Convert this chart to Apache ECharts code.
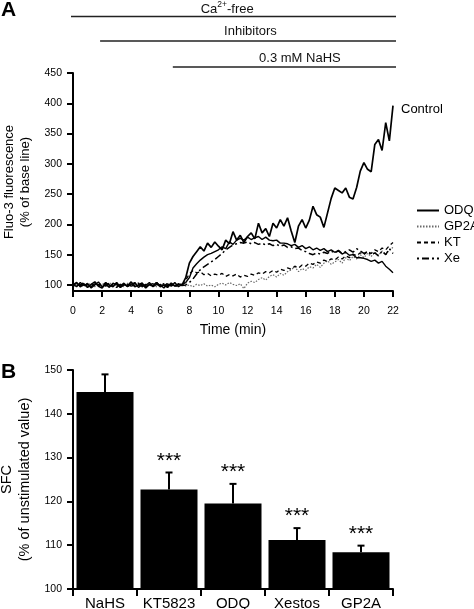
<!DOCTYPE html>
<html><head><meta charset="utf-8">
<script src="https://cdn.jsdelivr.net/npm/echarts@6/dist/echarts.min.js"></script>
<style>html,body{margin:0;padding:0;background:#fff}#c{width:474px;height:609px}</style>
</head><body><div id="c"></div><script>
// ---------- Panel A data ----------
const times = [0,0.25,0.5,0.75,1,1.25,1.5,1.75,2,2.25,2.5,2.75,3,3.25,3.5,3.75,4,4.25,4.5,4.75,5,5.25,5.5,5.75,6,6.25,6.5,6.75,7,7.25,7.5,
  7.75,8,8.25,8.5,8.75,9,9.25,9.5,9.75,10,10.25,10.5,10.75,11,11.25,11.5,11.75,12,12.25,12.5,12.75,13,13.25,13.5,13.75,14,14.25,14.5,14.75,15,
  15.25,15.5,15.75,16,16.25,16.5,16.75,17,17.25,17.5,17.75,18,18.25,18.5,18.75,19,19.25,19.5,19.75,20,20.25,20.5,20.75,21,21.25,21.5,21.75,22];

const control = [100,104,97,102,96,101,105,98,95,103,100,97,104,96,101,98,105,97,100,103,95,101,98,104,97,100,96,103,98,101,100,
  112,136,147,155,163,156,169,162,171,164,
  158,174,168,188,174,182,170,180,186,176,
  202,186,193,180,202,194,208,197,211,189,
  170,197,208,194,207,230,216,212,195,219,
  243,260,256,252,260,245,242,261,288,302,
  291,287,332,340,322,368,338,396];

const odq = [101,97,104,99,102,95,100,105,97,101,96,103,100,98,103,97,101,104,96,100,99,104,97,101,100,95,102,98,104,97,101,
  104,112,128,135,141,146,150,152,155,158,
  163,160,171,167,174,177,174,179,175,178,
  180,175,179,174,173,174,169,169,168,165,
  167,162,165,160,163,158,161,157,160,155,
  158,154,156,151,154,149,150,145,145,144,
  142,139,141,136,139,131,126,120];

const gp2a = [99,102,100,98,103,100,97,101,102,99,104,98,100,101,97,103,99,100,102,98,101,99,103,97,100,101,98,102,100,99,103,
  98,100,97,101,99,102,98,100,97,101,
  103,100,104,101,99,102,94,103,106,104,
  109,112,108,114,117,113,119,116,122,125,
  130,122,127,124,130,128,134,129,136,140,
  134,138,142,136,145,140,147,143,150,145,
  152,147,154,149,156,150,158,162];

const kt = [102,99,101,97,100,103,98,101,99,104,98,100,102,96,100,101,98,103,99,101,97,100,102,99,101,98,103,100,98,102,100,
  108,118,124,120,122,117,119,115,118,116,
  119,114,117,115,118,113,116,114,118,116,
  120,118,122,120,124,121,126,124,128,126,
  131,128,133,131,136,134,138,136,141,139,
  143,141,146,143,148,145,151,148,153,150,
  156,152,158,155,161,158,165,170];

const xe = [98,101,99,104,100,97,102,99,101,98,103,100,96,101,99,102,98,100,103,97,101,99,100,104,98,102,99,101,97,100,99,
  100,104,110,118,125,130,134,138,142,147,
  152,158,162,166,168,170,169,171,168,170,
  167,169,166,168,165,167,164,166,162,163,
  160,161,157,155,152,150,153,151,154,152,
  156,153,157,152,155,158,154,160,156,152,
  155,150,153,148,156,150,160,152];

const yTicksA = [100,150,200,250,300,350,400,450];
const bandLabels = ['Ca{s|2+}-free', 'Inhibitors', '0.3 mM NaHS'];
const bandStarts = [0, 2, 7];
const bandEnds = [22, 22, 22];
const bandLabelTimes = [10.6, 12.2, 15.6];

// ---------- Panel B data ----------
const categories = ['NaHS', 'KT5823', 'ODQ', 'Xestos', 'GP2A'];
const means = [145, 122.7, 119.5, 111.2, 108.4];
const sems = [4.0, 3.9, 4.5, 2.7, 1.5];
const significance = ['', '***', '***', '***', '***'];

const FONT = '"Liberation Sans", Arial, Helvetica, sans-serif';
const chart = echarts.init(document.getElementById('c'), null, {renderer: 'canvas'});

const axisLineS = {show: true, lineStyle: {color: '#000', width: 2}};
const axisTickS = {show: true, inside: false, length: 6, lineStyle: {color: '#000', width: 2}};

function pairs(vals) { return times.map((t, i) => [t, vals[i]]); }
function lineSeries(name, vals, style, extra) {
  return Object.assign({
    name, type: 'line', xAxisIndex: 0, yAxisIndex: 0, data: pairs(vals),
    symbol: 'none', showSymbol: false, animation: false, lineStyle: style, clip: true
  }, extra || {});
}

const option = {
  animation: false,
  textStyle: {fontFamily: FONT, color: '#000'},
  grid: [
    {left: 73, right: 81, top: 73, bottom: 318, containLabel: false, outerBoundsMode: 'none'},
    {left: 73, right: 81, top: 370, bottom: 20, containLabel: false, outerBoundsMode: 'none'}
  ],
  legend: {
    data: ['ODQ', 'GP2A', 'KT', 'Xe'], orient: 'vertical', left: 416, top: 204,
    itemWidth: 22, itemHeight: 12, itemGap: 3, padding: 0,
    itemStyle: {opacity: 0},
    textStyle: {fontSize: 13, color: '#000', fontFamily: FONT}
  },
  xAxis: [
    {type: 'value', gridIndex: 0, min: 0, max: 22, interval: 2,
     axisLine: axisLineS, axisTick: axisTickS, splitLine: {show: false},
     axisLabel: {fontSize: 10.5, color: '#000', margin: 15, fontFamily: FONT},
     name: 'Time (min)', nameLocation: 'middle', nameGap: 32,
     nameTextStyle: {fontSize: 14, color: '#000', fontFamily: FONT}},
    {type: 'category', gridIndex: 1, data: categories,
     axisLine: axisLineS, axisTick: Object.assign({}, axisTickS, {length: 7, alignWithLabel: false}),
     axisLabel: {fontSize: 15, color: '#000', margin: 7, fontFamily: FONT, interval: 0},
     splitLine: {show: false}}
  ],
  yAxis: [
    {type: 'value', gridIndex: 0, min: 90, max: 450,
     axisLine: axisLineS,
     axisTick: Object.assign({}, axisTickS, {customValues: yTicksA}),
     axisLabel: {fontSize: 10.5, color: '#000', margin: 11, fontFamily: FONT, customValues: yTicksA},
     splitLine: {show: false},
     name: 'Fluo-3 fluorescence\n(% of base line)', nameLocation: 'middle', nameRotate: 90, nameGap: 39,
     nameTextStyle: {fontSize: 13, lineHeight: 16, color: '#000', fontFamily: FONT, align: 'center'}},
    {type: 'value', gridIndex: 1, min: 100, max: 150, interval: 10,
     axisLine: axisLineS, axisTick: axisTickS,
     axisLabel: {fontSize: 10.5, color: '#000', margin: 11, fontFamily: FONT},
     splitLine: {show: false},
     name: 'SFC\n(% of unstimulated value)', nameLocation: 'middle', nameRotate: 90, nameGap: 37,
     nameTextStyle: {fontSize: 14.5, lineHeight: 18, color: '#000', fontFamily: FONT, align: 'center'}}
  ],
  series: [
    lineSeries('GP2A', gp2a, {color: '#6a6a6a', width: 1.2, type: [1.5, 1.5]}, {itemStyle: {color: '#6a6a6a'}}),
    lineSeries('KT', kt, {color: '#000', width: 1.3, type: [4, 3]}, {itemStyle: {color: '#000'}}),
    lineSeries('Xe', xe, {color: '#000', width: 1.5, type: [2, 3, 7, 3]}, {itemStyle: {color: '#000'}}),
    lineSeries('ODQ', odq, {color: '#000', width: 1.4, type: 'solid'}, {itemStyle: {color: '#000'}}),
    lineSeries('Control', control, {color: '#000', width: 1.7, type: 'solid'}, {
      itemStyle: {color: '#000'},
      endLabel: {show: true, formatter: 'Control', fontSize: 13, color: '#000', fontFamily: FONT, distance: 8, offset: [0, 4]}
    }),
    {type: 'bar', name: 'SFC', xAxisIndex: 1, yAxisIndex: 1, data: means, barWidth: 57,
     itemStyle: {color: '#000'}, animation: false},
    {type: 'custom', name: 'err', xAxisIndex: 1, yAxisIndex: 1, animation: false,
     data: categories.map((c, i) => [i, means[i], sems[i]]),
     encode: {x: 0, y: 1},
     renderItem: function (params, api) {
       const i = api.value(0), m = api.value(1), e = api.value(2);
       const p0 = api.coord([i, m]);
       const p1 = api.coord([i, m + e]);
       const cap = 3.5;
       const st = {stroke: '#000', lineWidth: 2};
       const children = [
         {type: 'line', shape: {x1: p0[0], y1: p0[1], x2: p1[0], y2: p1[1]}, style: st},
         {type: 'line', shape: {x1: p1[0] - cap, y1: p1[1], x2: p1[0] + cap, y2: p1[1]}, style: st}
       ];
       if (significance[i]) {
         children.push({type: 'text', style: {text: significance[i], x: p1[0], y: p1[1] - 1,
           align: 'center', verticalAlign: 'bottom', fontSize: 21, fontFamily: FONT, fill: '#000'}});
       }
       return {type: 'group', children};
     }}
  ]
};
chart.setOption(option);

// annotation bars above panel A, positioned through the time axis
const lineYs = [16.5, 41, 67];
const textYs = [9, 31, 58];
const graphics = [
  {type: 'text', left: 1, top: 0, style: {text: 'A', fontSize: 21, fontWeight: 'bold', fontFamily: FONT, fill: '#000'}},
  {type: 'text', left: 1, top: 362, style: {text: 'B', fontSize: 21, fontWeight: 'bold', fontFamily: FONT, fill: '#000'}}
];
bandLabels.forEach((lab, k) => {
  const x1 = chart.convertToPixel({xAxisIndex: 0}, bandStarts[k]) - 2;
  const x2 = chart.convertToPixel({xAxisIndex: 0}, bandEnds[k]) + 3;
  const xt = chart.convertToPixel({xAxisIndex: 0}, bandLabelTimes[k]);
  graphics.push({type: 'line', shape: {x1, y1: lineYs[k], x2, y2: lineYs[k]}, style: {stroke: '#222', lineWidth: 1.5}});
  graphics.push({type: 'text', x: xt, y: textYs[k], style: {text: lab, align: 'center', verticalAlign: 'middle',
    fontSize: 13, fontFamily: FONT, fill: '#111',
    rich: {s: {fontSize: 8.5, fontFamily: FONT, fill: '#111', padding: [0, 0, 9, 0]}}}});
});
chart.setOption({graphic: graphics});
</script></body></html>
